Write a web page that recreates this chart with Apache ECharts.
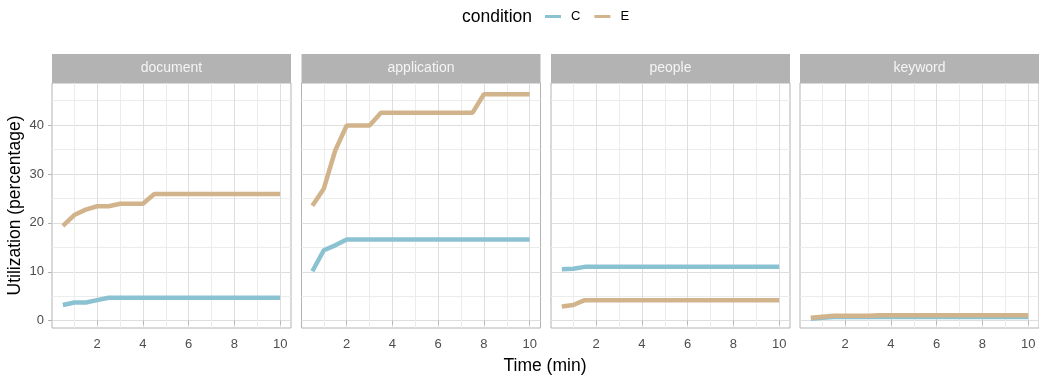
<!DOCTYPE html>
<html>
<head>
<meta charset="utf-8">
<script src="https://cdn.jsdelivr.net/npm/echarts@6/dist/echarts.min.js"></script>
<style>
html,body{margin:0;padding:0;background:#fff;}
#chart{width:1039px;height:375px;}
</style>
</head>
<body>
<div id="chart"></div>
<script>
// ---- data ----
const panels = ['document', 'application', 'people', 'keyword'];
const time = [0.5, 1, 1.5, 2, 2.5, 3, 3.5, 4, 4.5, 5, 5.5, 6, 6.5, 7, 7.5, 8, 8.5, 9, 9.5, 10];
const docC = [3.2, 3.7, 3.7, 4.2, 4.7, 4.7, 4.7, 4.7, 4.7, 4.7, 4.7, 4.7, 4.7, 4.7, 4.7, 4.7, 4.7, 4.7, 4.7, 4.7];
const docE = [19.4, 21.6, 22.7, 23.4, 23.4, 23.9, 23.9, 23.9, 25.9, 25.9, 25.9, 25.9, 25.9, 25.9, 25.9, 25.9, 25.9, 25.9, 25.9, 25.9];
const appC = [10.1, 14.4, 15.4, 16.6, 16.6, 16.6, 16.6, 16.6, 16.6, 16.6, 16.6, 16.6, 16.6, 16.6, 16.6, 16.6, 16.6, 16.6, 16.6, 16.6];
const appE = [23.5, 27.0, 34.8, 39.9, 39.9, 39.9, 42.5, 42.5, 42.5, 42.5, 42.5, 42.5, 42.5, 42.5, 42.5, 46.3, 46.3, 46.3, 46.3, 46.3];
const pplC = [10.5, 10.6, 11.0, 11.0, 11.0, 11.0, 11.0, 11.0, 11.0, 11.0, 11.0, 11.0, 11.0, 11.0, 11.0, 11.0, 11.0, 11.0, 11.0, 11.0];
const pplE = [2.9, 3.2, 4.2, 4.2, 4.2, 4.2, 4.2, 4.2, 4.2, 4.2, 4.2, 4.2, 4.2, 4.2, 4.2, 4.2, 4.2, 4.2, 4.2, 4.2];
const kwC = [0.4, 0.6, 0.75, 0.75, 0.75, 0.75, 0.75, 0.75, 0.75, 0.75, 0.75, 0.75, 0.75, 0.75, 0.75, 0.75, 0.75, 0.75, 0.75, 0.75];
const kwE = [0.6, 0.8, 1.0, 1.0, 1.0, 1.0, 1.1, 1.1, 1.1, 1.1, 1.1, 1.1, 1.1, 1.1, 1.1, 1.1, 1.1, 1.1, 1.1, 1.1];
const seriesC = [docC, appC, pplC, kwC];
const seriesE = [docE, appE, pplE, kwE];
const xTicks = [2, 4, 6, 8, 10];
const yTicks = [0, 10, 20, 30, 40];

// ---- layout / style ----
const colC = '#8AC2D2', colE = '#D2B48C';
const lefts = [52, 301.5, 551, 800];
const pw = 239, gTop = 83, ph = 245;
const stripTop = 54, stripH = 29;
const font = '"Liberation Sans", Arial, sans-serif';

const grids = [], xAxes = [], yAxes = [], seriesList = [], graphics = [];
panels.forEach((p, i) => {
  grids.push({left: lefts[i], top: gTop, width: pw, height: ph, show: true,
    borderColor: '#b3b3b3', borderWidth: 1, backgroundColor: '#fff', containLabel: false});
  xAxes.push({type: 'value', gridIndex: i, min: 0.025, max: 10.475, splitNumber: 5,
    axisLine: {show: false},
    axisTick: {show: true, length: 4, customValues: xTicks, lineStyle: {color: '#b3b3b3'}},
    axisLabel: {customValues: xTicks, color: '#4d4d4d', fontSize: 13, fontFamily: font, margin: 10},
    splitLine: {show: true, lineStyle: {color: '#dedede', width: 1}},
    minorTick: {show: false, splitNumber: 2},
    minorSplitLine: {show: true, lineStyle: {color: '#ececec', width: 1}}
  });
  yAxes.push({type: 'value', gridIndex: i, min: -1.5, max: 48.6, splitNumber: 5,
    name: i === 0 ? 'Utilization (percentage)' : '',
    nameLocation: 'middle', nameRotate: 90, nameGap: 28,
    nameTextStyle: {color: '#000', fontSize: 17.5, fontFamily: font},
    axisLine: {show: false},
    axisTick: {show: i === 0, length: 4, customValues: yTicks, lineStyle: {color: '#b3b3b3'}},
    axisLabel: {show: i === 0, customValues: yTicks, color: '#4d4d4d', fontSize: 13, fontFamily: font, margin: 8},
    splitLine: {show: true, lineStyle: {color: '#dedede', width: 1}},
    minorTick: {show: false, splitNumber: 2},
    minorSplitLine: {show: true, lineStyle: {color: '#ececec', width: 1}}
  });
  seriesList.push({name: 'C', type: 'line', xAxisIndex: i, yAxisIndex: i, showSymbol: false,
    data: time.map((t, k) => [t, seriesC[i][k]]), lineStyle: {color: colC, width: 4.5}, itemStyle: {color: colC}, animation: false});
  seriesList.push({name: 'E', type: 'line', xAxisIndex: i, yAxisIndex: i, showSymbol: false,
    data: time.map((t, k) => [t, seriesE[i][k]]), lineStyle: {color: colE, width: 4.5}, itemStyle: {color: colE}, animation: false});
  graphics.push({type: 'rect', shape: {x: lefts[i], y: stripTop, width: pw, height: stripH},
    style: {fill: '#b3b3b3'}, silent: true});
  graphics.push({type: 'text', x: lefts[i] + pw / 2, y: stripTop + stripH / 2,
    style: {text: p, fill: '#f5f5f5', font: '14px ' + font, align: 'center', verticalAlign: 'middle'}, silent: true});
});
graphics.push({type: 'text', x: 545, y: 366,
  style: {text: 'Time (min)', fill: '#000', font: '17.5px ' + font, align: 'center', verticalAlign: 'middle'}});
graphics.push({type: 'text', x: 532, y: 17,
  style: {text: 'condition', fill: '#000', font: '17.5px ' + font, align: 'right', verticalAlign: 'middle'}});

const chart = echarts.init(document.getElementById('chart'), null, {renderer: 'canvas'});
chart.setOption({
  animation: false,
  backgroundColor: '#fff',
  legend: {data: ['C', 'E'], left: 545, top: 10, icon: 'rect', itemWidth: 16, itemHeight: 3,
    itemGap: 14, padding: 0,
    textStyle: {color: '#000', fontSize: 13, fontFamily: font, padding: [0, 0, 0, 5]}},
  grid: grids, xAxis: xAxes, yAxis: yAxes, series: seriesList, graphic: graphics
});
</script>
</body>
</html>
